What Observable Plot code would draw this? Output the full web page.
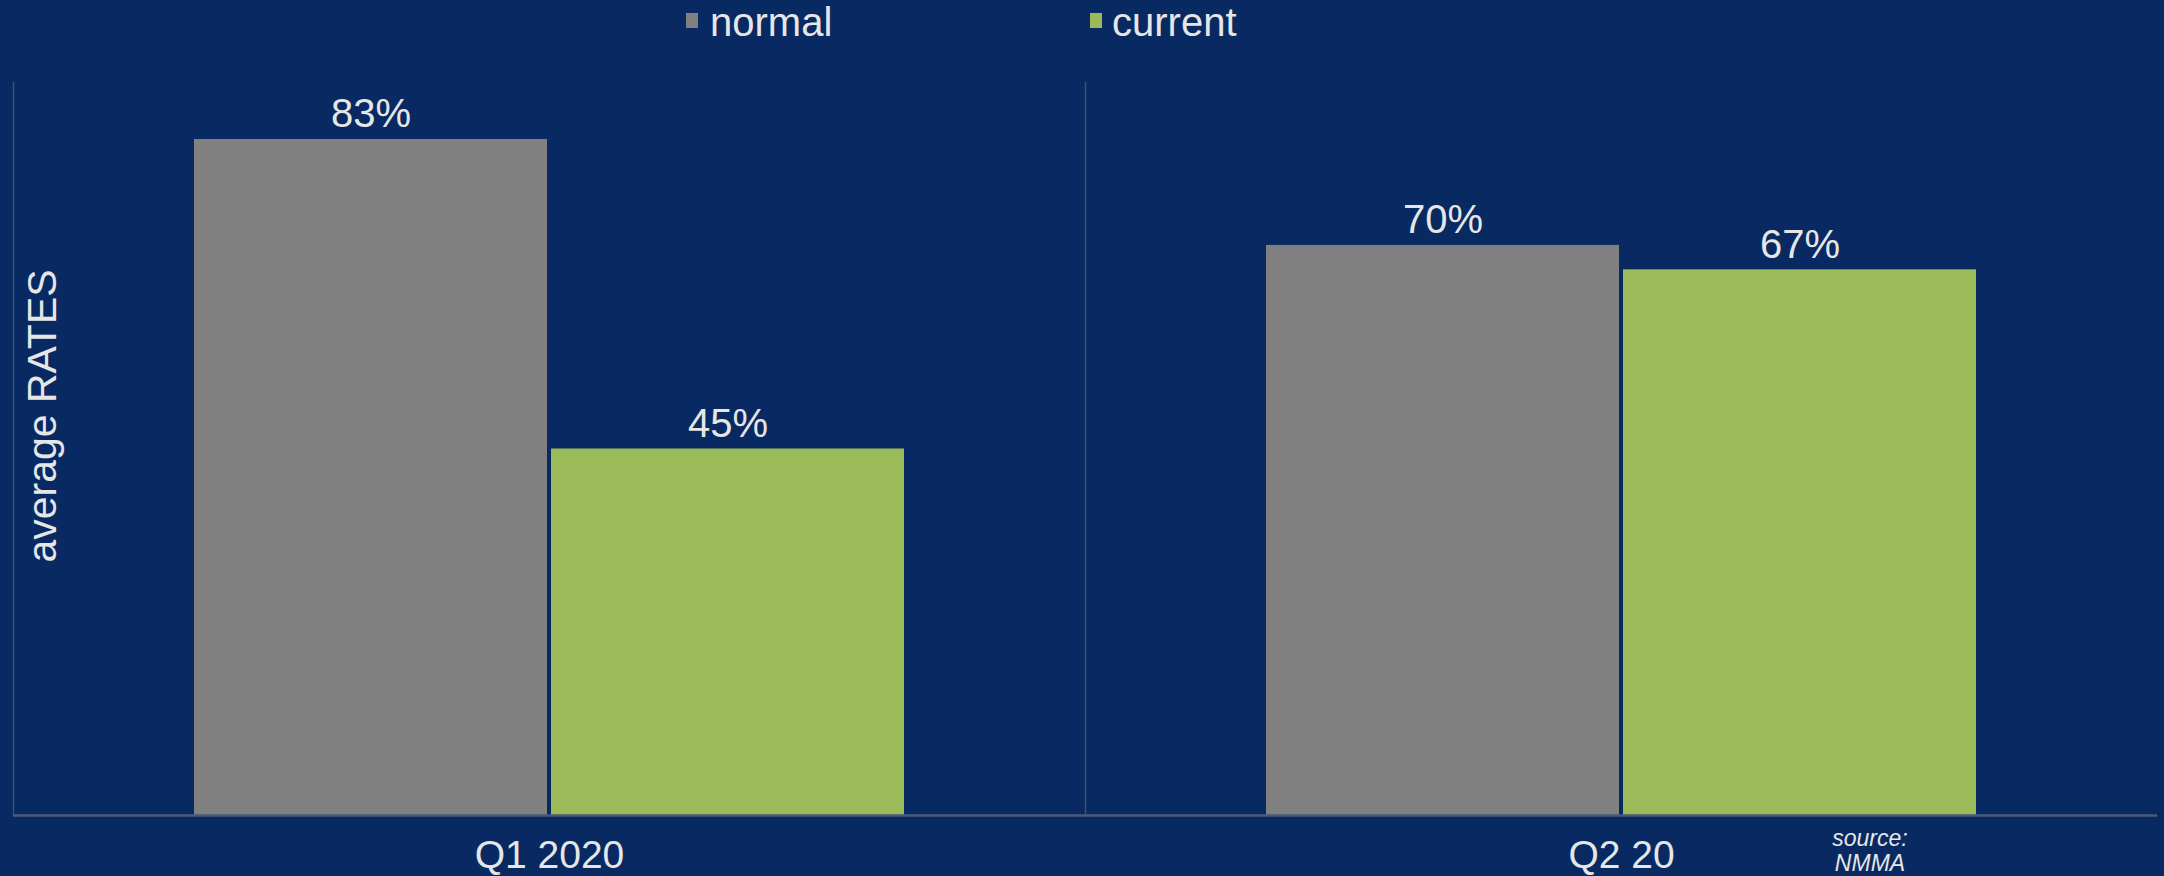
<!DOCTYPE html>
<html>
<head>
<meta charset="utf-8">
<script src="https://cdn.jsdelivr.net/npm/d3@7"></script>
<script src="https://cdn.jsdelivr.net/npm/@observablehq/plot@0.6"></script>
<style>
  html, body { margin: 0; padding: 0; background: #082961; }
  #wrap { position: relative; width: 2164px; height: 876px; overflow: hidden;
          font-family: "Liberation Sans", Arial, sans-serif; color: #e6e6e6; }
  #chart { position: absolute; left: 0; top: 0; }
  .leg { position: absolute; top: 2px; font-size: 40px; line-height: 40px; white-space: nowrap; }
  .sw { position: absolute; width: 12px; height: 15px; top: 13px; }
  #source { position: absolute; left: 1770px; width: 200px; top: 826px; text-align: center;
            font-style: italic; font-size: 23px; line-height: 25px; }
</style>
</head>
<body>
<div id="wrap">
  <div id="chart"></div>
  <div id="legend"></div>
  <div id="source">source:<br>NMMA</div>
</div>
<script>
const quarters = ["Q1 2020", "Q2 20"];
const seriesNames = ["normal", "current"];
const normalValues = [0.83, 0.70];
const currentValues = [0.45, 0.67];
const seriesColors = ["#808080", "#9bbb59"];
const yLabel = "average RATES";

const rows = [];
quarters.forEach((q, i) => {
  rows.push({quarter: q, series: seriesNames[0], value: normalValues[i]});
  rows.push({quarter: q, series: seriesNames[1], value: currentValues[i]});
});

const font = "'Liberation Sans', Arial, sans-serif";

const chart = Plot.plot({
  width: 2164,
  height: 876,
  marginTop: 82,
  marginBottom: 61,
  marginLeft: 12,
  marginRight: 7,
  style: {background: "transparent", color: "#e6e6e6", fontFamily: font, fontSize: "39px"},
  fx: {domain: quarters, padding: 0, label: null, axis: "bottom", tickSize: 0, tickPadding: 25},
  x: {domain: seriesNames, paddingInner: 0.01, paddingOuter: 0.505, axis: null},
  y: {domain: [0, 0.9], axis: null},
  color: {domain: seriesNames, range: seriesColors},
  marks: [
    Plot.frame({anchor: "left", stroke: "#3c4f74", strokeWidth: 1.5}),
    Plot.barY(rows, {fx: "quarter", x: "series", y: "value", fill: "series"}),
    Plot.ruleY([0], {stroke: "#4a5a7c", strokeWidth: 2.5}),
    Plot.text(rows, {fx: "quarter", x: "series", y: "value",
      text: d => Math.round(d.value * 100) + "%",
      lineAnchor: "middle", dy: -25, fontSize: 40, fill: "#e6e6e6"}),
    Plot.text([yLabel], {fx: [quarters[0]], text: d => d, frameAnchor: "left",
      textAnchor: "middle", rotate: -90, dx: 29, dy: -33, fontSize: 41, fill: "#e6e6e6", lineAnchor: "middle"})
  ]
});
document.getElementById("chart").appendChild(chart);

// legend
const legend = document.getElementById("legend");
const legPos = [{sw: 686, tx: 710}, {sw: 1090, tx: 1112}];
seriesNames.forEach((s, i) => {
  const sw = document.createElement("div");
  sw.className = "sw";
  sw.style.left = legPos[i].sw + "px";
  sw.style.background = seriesColors[i];
  legend.appendChild(sw);
  const t = document.createElement("div");
  t.className = "leg";
  t.style.left = legPos[i].tx + "px";
  t.textContent = s;
  legend.appendChild(t);
});
</script>
</body>
</html>
